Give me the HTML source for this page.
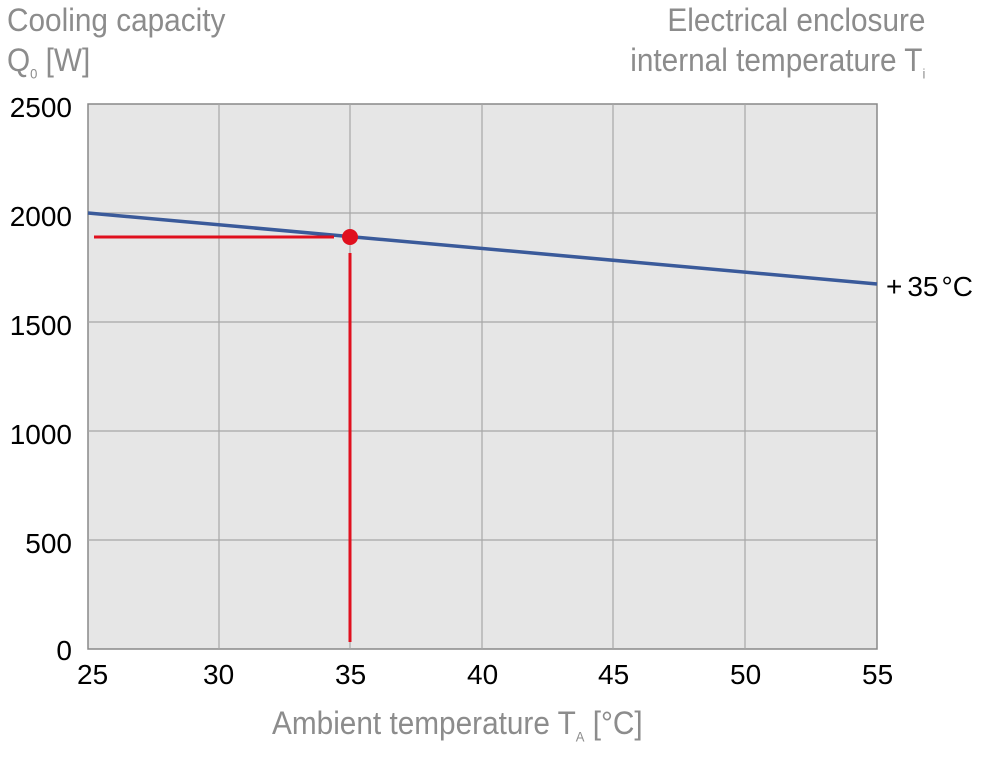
<!DOCTYPE html>
<html><head><style>
body{margin:0;width:985px;height:761px;background:#fff;overflow:hidden;position:relative;font-family:"Liberation Sans",sans-serif}
.g{position:absolute;color:#8c8c8c;font-family:"Liberation Sans",sans-serif;font-size:32px;white-space:nowrap;line-height:1}
.gl{transform:scaleX(0.93);transform-origin:left top}
.gr{transform:scaleX(0.93);transform-origin:right top}
.t{position:absolute;color:#000;font-size:28px;line-height:1}
</style></head><body>
<div class="g gl" style="left:7px;top:4px">Cooling capacity</div>
<div class="g gl" style="left:7px;top:44px">Q<sub style="font-size:14px">0</sub> [W]</div>
<div class="g gr" style="right:60px;top:4px">Electrical enclosure</div>
<div class="g gr" style="right:60px;top:44px">internal temperature T<sub style="font-size:14px">i</sub></div>
<div class="g gl" style="left:272px;top:707px">Ambient temperature T<sub style="font-size:14px">A</sub> [°C]</div>
<svg width="985" height="761" style="position:absolute;left:0;top:0">
<rect x="88" y="104" width="789" height="545" fill="#e6e6e6" stroke="#888" stroke-width="1.5"/>
<g stroke="#a6a6a6" stroke-width="1.2">
<line x1="219" y1="104" x2="219" y2="649"/><line x1="350" y1="104" x2="350" y2="649"/>
<line x1="482" y1="104" x2="482" y2="649"/><line x1="613" y1="104" x2="613" y2="649"/>
<line x1="745" y1="104" x2="745" y2="649"/>
<line x1="88" y1="213" x2="877" y2="213"/><line x1="88" y1="322" x2="877" y2="322"/>
<line x1="88" y1="431" x2="877" y2="431"/><line x1="88" y1="540" x2="877" y2="540"/>
</g>
<line x1="88" y1="213" x2="877" y2="284" stroke="#3a5a9a" stroke-width="3.5"/>
<line x1="94" y1="237" x2="334" y2="237" stroke="#e0101e" stroke-width="3"/>
<line x1="350" y1="253" x2="350" y2="642" stroke="#e0101e" stroke-width="3"/>
<circle cx="350" cy="237" r="8" fill="#e0101e"/>
</svg>
<div class="t" style="right:913px;top:94px">2500</div>
<div class="t" style="right:913px;top:203px">2000</div>
<div class="t" style="right:913px;top:312px">1500</div>
<div class="t" style="right:913px;top:421px">1000</div>
<div class="t" style="right:913px;top:530px">500</div>
<div class="t" style="right:913px;top:637px">0</div>
<div class="t" style="left:77px;top:661px">25</div>
<div class="t" style="left:203px;top:661px">30</div>
<div class="t" style="left:335px;top:661px">35</div>
<div class="t" style="left:467px;top:661px">40</div>
<div class="t" style="left:598px;top:661px">45</div>
<div class="t" style="left:730px;top:661px">50</div>
<div class="t" style="left:862px;top:661px">55</div>
<div class="t" style="left:886px;top:273px">+<span style="margin-left:5px">35</span><span style="margin-left:3px">°C</span></div>
</body></html>
